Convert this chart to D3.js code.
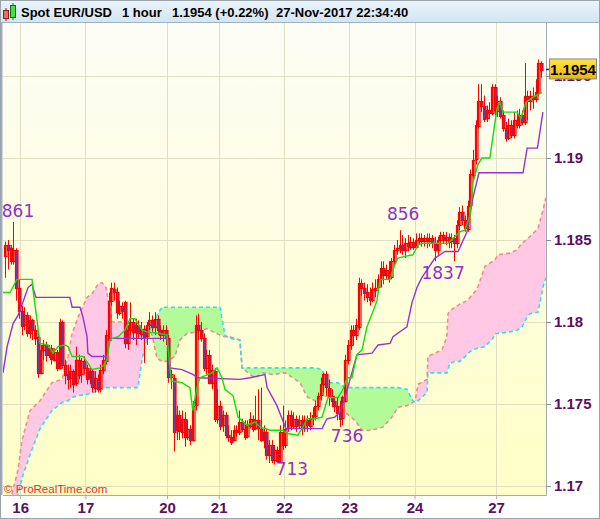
<!DOCTYPE html>
<html><head><meta charset="utf-8">
<script src="https://cdn.jsdelivr.net/npm/d3@7"></script>
<style>html,body{margin:0;padding:0;background:#fff;}svg{display:block;}</style>
</head><body><svg id="c" width="600" height="519"></svg>
<script>
// ---------- data ----------
const dayLabels = ["16","17","20","21","22","23","24","27"];
const dayTickBars = [5.5,29.5,59.5,78.5,102.5,126.5,150.5,180.5];
const priceTicks = [1.17,1.175,1.18,1.185,1.19,1.195];
const lastPrice = 1.1954;
const titleParts = ["Spot EUR/USD","1 hour","1.1954 (+0.22%)","27-Nov-2017 22:34:40"];

const open = [1.1840,1.1847,1.1845,1.1837,1.1844,1.1821,1.1807,1.1798,1.1804,1.1793,
1.1801,1.1795,1.1791,1.1769,1.1783,1.1786,1.1780,1.1784,1.1777,1.1782,
1.1772,1.1800,1.1774,1.1768,1.1766,1.1770,1.1763,1.1777,1.1768,1.1776,
1.1772,1.1766,1.1770,1.1760,1.1765,1.1760,1.1771,1.1776,1.1789,1.1813,
1.1820,1.1818,1.1806,1.1810,1.1812,1.1787,1.1795,1.1800,1.1794,1.1798,
1.1793,1.1796,1.1791,1.1798,1.1801,1.1797,1.1802,1.1795,1.1792,1.1795,
1.1790,1.1766,1.1766,1.1734,1.1743,1.1733,1.1741,1.1730,1.1735,1.1728,
1.1749,1.1798,1.1795,1.1790,1.1772,1.1780,1.1763,1.1770,1.1741,1.1749,
1.1737,1.1743,1.1731,1.1730,1.1728,1.1734,1.1733,1.1739,1.1735,1.1730,
1.1737,1.1741,1.1735,1.1740,1.1735,1.1728,1.1733,1.1719,1.1725,1.1716,
1.1722,1.1715,1.1733,1.1725,1.1735,1.1743,1.1737,1.1741,1.1737,1.1740,
1.1735,1.1740,1.1737,1.1741,1.1743,1.1749,1.1755,1.1762,1.1768,1.1760,
1.1755,1.1752,1.1749,1.1745,1.1741,1.1752,1.1777,1.1786,1.1795,1.1792,
1.1797,1.1824,1.1821,1.1818,1.1815,1.1813,1.1820,1.1821,1.1826,1.1833,
1.1829,1.1832,1.1827,1.1837,1.1844,1.1845,1.1847,1.1844,1.1848,1.1846,
1.1849,1.1846,1.1850,1.1851,1.1849,1.1851,1.1849,1.1851,1.1848,1.1844,
1.1850,1.1853,1.1850,1.1852,1.1849,1.1851,1.1848,1.1859,1.1867,1.1862,
1.1857,1.1871,1.1890,1.1899,1.1920,1.1935,1.1932,1.1924,1.1929,1.1927,
1.1943,1.1929,1.1935,1.1926,1.1918,1.1912,1.1920,1.1914,1.1923,1.1920,
1.1926,1.1922,1.1938,1.1935,1.1938,1.1936,1.1940,1.1958];

const high = [1.1849,1.1850,1.1847,1.1861,1.1845,1.1826,1.1810,1.1809,1.1806,1.1804,
1.1802,1.1798,1.1793,1.1786,1.1789,1.1788,1.1786,1.1786,1.1784,1.1783,
1.1802,1.1801,1.1777,1.1774,1.1774,1.1771,1.1785,1.1780,1.1778,1.1779,
1.1774,1.1772,1.1771,1.1770,1.1768,1.1774,1.1780,1.1795,1.1818,1.1824,
1.1824,1.1821,1.1813,1.1812,1.1813,1.1798,1.1812,1.1802,1.1802,1.1801,
1.1800,1.1798,1.1800,1.1806,1.1804,1.1806,1.1804,1.1798,1.1798,1.1798,
1.1792,1.1771,1.1768,1.1749,1.1746,1.1746,1.1745,1.1740,1.1737,1.1752,
1.1804,1.1805,1.1800,1.1793,1.1783,1.1783,1.1774,1.1772,1.1759,1.1752,
1.1746,1.1745,1.1737,1.1734,1.1737,1.1737,1.1746,1.1741,1.1740,1.1740,
1.1745,1.1743,1.1755,1.1759,1.1760,1.1737,1.1735,1.1728,1.1728,1.1725,
1.1724,1.1737,1.1749,1.1740,1.1746,1.1746,1.1745,1.1743,1.1743,1.1743,
1.1743,1.1743,1.1745,1.1748,1.1752,1.1757,1.1766,1.1769,1.1770,1.1765,
1.1759,1.1755,1.1754,1.1752,1.1755,1.1780,1.1789,1.1798,1.1798,1.1802,
1.1827,1.1826,1.1824,1.1823,1.1821,1.1824,1.1826,1.1829,1.1837,1.1837,
1.1835,1.1837,1.1839,1.1847,1.1850,1.1856,1.1853,1.1851,1.1853,1.1852,
1.1851,1.1854,1.1854,1.1854,1.1853,1.1854,1.1854,1.1853,1.1852,1.1852,
1.1855,1.1855,1.1855,1.1854,1.1854,1.1853,1.1862,1.1870,1.1871,1.1865,
1.1874,1.1893,1.1905,1.1923,1.1945,1.1945,1.1938,1.1932,1.1934,1.1945,
1.1945,1.1938,1.1937,1.1929,1.1922,1.1924,1.1923,1.1928,1.1929,1.1930,
1.1929,1.1958,1.1941,1.1941,1.1943,1.1948,1.1960,1.1959];

const low = [1.1827,1.1832,1.1835,1.1835,1.1813,1.1802,1.1792,1.1795,1.1791,1.1790,
1.1789,1.1786,1.1766,1.1768,1.1777,1.1776,1.1778,1.1774,1.1776,1.1770,
1.1771,1.1772,1.1762,1.1759,1.1760,1.1757,1.1761,1.1765,1.1763,1.1768,
1.1762,1.1762,1.1757,1.1757,1.1757,1.1757,1.1768,1.1774,1.1786,1.1810,
1.1813,1.1802,1.1804,1.1802,1.1784,1.1783,1.1792,1.1789,1.1786,1.1790,
1.1789,1.1775,1.1786,1.1795,1.1794,1.1792,1.1792,1.1789,1.1788,1.1786,
1.1763,1.1759,1.1721,1.1728,1.1728,1.1729,1.1724,1.1728,1.1725,1.1727,
1.1746,1.1789,1.1788,1.1770,1.1768,1.1762,1.1759,1.1739,1.1738,1.1734,
1.1733,1.1729,1.1727,1.1725,1.1728,1.1730,1.1731,1.1733,1.1728,1.1729,
1.1735,1.1733,1.1734,1.1728,1.1727,1.1723,1.1716,1.1714,1.1714,1.1713,
1.1714,1.1714,1.1722,1.1723,1.1733,1.1734,1.1735,1.1733,1.1735,1.1731,
1.1733,1.1733,1.1734,1.1737,1.1740,1.1746,1.1752,1.1757,1.1755,1.1749,
1.1748,1.1745,1.1740,1.1736,1.1737,1.1751,1.1774,1.1783,1.1786,1.1789,
1.1795,1.1816,1.1813,1.1812,1.1810,1.1812,1.1815,1.1818,1.1821,1.1823,
1.1826,1.1824,1.1826,1.1835,1.1841,1.1842,1.1841,1.1839,1.1843,1.1844,
1.1844,1.1845,1.1847,1.1846,1.1846,1.1845,1.1846,1.1845,1.1837,1.1841,
1.1847,1.1848,1.1847,1.1845,1.1845,1.1837,1.1845,1.1856,1.1859,1.1855,
1.1855,1.1868,1.1887,1.1896,1.1918,1.1928,1.1922,1.1922,1.1924,1.1926,
1.1926,1.1925,1.1924,1.1916,1.1910,1.1911,1.1912,1.1912,1.1918,1.1918,
1.1920,1.1920,1.1923,1.1929,1.1930,1.1934,1.1938,1.1949];

const close = [1.1847,1.1844,1.1837,1.1844,1.1821,1.1807,1.1798,1.1804,1.1793,1.1801,
1.1795,1.1790,1.1769,1.1783,1.1786,1.1780,1.1784,1.1777,1.1782,1.1772,
1.1800,1.1774,1.1768,1.1765,1.1770,1.1762,1.1777,1.1768,1.1776,1.1772,
1.1765,1.1770,1.1760,1.1766,1.1759,1.1771,1.1777,1.1792,1.1813,1.1821,
1.1818,1.1806,1.1810,1.1807,1.1787,1.1795,1.1800,1.1794,1.1798,1.1793,
1.1796,1.1791,1.1798,1.1801,1.1797,1.1802,1.1795,1.1792,1.1795,1.1790,
1.1766,1.1768,1.1733,1.1743,1.1733,1.1741,1.1730,1.1735,1.1728,1.1749,
1.1798,1.1795,1.1790,1.1772,1.1780,1.1763,1.1771,1.1741,1.1749,1.1737,
1.1743,1.1731,1.1730,1.1727,1.1734,1.1733,1.1739,1.1735,1.1730,1.1737,
1.1741,1.1735,1.1740,1.1735,1.1728,1.1733,1.1719,1.1725,1.1716,1.1722,
1.1715,1.1733,1.1725,1.1735,1.1743,1.1737,1.1741,1.1737,1.1740,1.1735,
1.1740,1.1737,1.1741,1.1743,1.1749,1.1755,1.1762,1.1768,1.1760,1.1755,
1.1752,1.1749,1.1745,1.1741,1.1754,1.1777,1.1786,1.1795,1.1792,1.1798,
1.1824,1.1821,1.1818,1.1815,1.1813,1.1820,1.1821,1.1826,1.1833,1.1829,
1.1832,1.1827,1.1837,1.1844,1.1845,1.1847,1.1844,1.1848,1.1846,1.1849,
1.1846,1.1850,1.1851,1.1849,1.1851,1.1849,1.1851,1.1848,1.1844,1.1850,
1.1853,1.1850,1.1852,1.1849,1.1851,1.1848,1.1859,1.1867,1.1862,1.1857,
1.1871,1.1890,1.1899,1.1920,1.1935,1.1932,1.1924,1.1929,1.1927,1.1943,
1.1929,1.1935,1.1926,1.1918,1.1912,1.1920,1.1914,1.1923,1.1920,1.1926,
1.1922,1.1938,1.1935,1.1938,1.1936,1.1940,1.1958,1.1954];

const tenkanBar = [-0.8,1.8,4.3,9.9,10.2,12.8,15.7,17.6,19.4,22.0,23.1,24.6,28.6,30.4,31.9,34.9,36.0,37.4,38.5,39.3,41.5,44.0,45.9,47.7,48.8,50.3,52.1,56.9,59.5,61.0,65.0,67.9,69.0,70.5,71.6,76.0,77.9,79.7,80.8,83.8,85.6,88.9,91.8,93.7,97.4,102.1,103.6,107.6,109.5,111.0,113.9,116.5,118.7,122.4,124.2,125.7,127.5,129.3,131.2,133.0,134.9,136.7,137.8,141.5,142.2,143.3,144.4,147.0,149.9,151.8,153.6,162.8,167.2,169.0,170.9,172.0,173.8,175.3,178.2,180.8,181.9,183.0,188.2,189.6,191.5,194.0,197.4];
const tenkanVal = [1.1818,1.1818,1.1826,1.1826,1.1820,1.1787,1.1786,1.1781,1.1785,1.1786,1.1785,1.1779,1.1779,1.1775,1.1771,1.1772,1.1773,1.1777,1.1789,1.1790,1.1791,1.1795,1.1802,1.1802,1.1799,1.1795,1.1794,1.1793,1.1792,1.1764,1.1763,1.1760,1.1746,1.1760,1.1766,1.1769,1.1772,1.1766,1.1759,1.1755,1.1742,1.1737,1.1739,1.1736,1.1734,1.1734,1.1732,1.1731,1.1736,1.1741,1.1741,1.1742,1.1754,1.1754,1.1759,1.1766,1.1766,1.1780,1.1783,1.1797,1.1805,1.1813,1.1826,1.1826,1.1830,1.1835,1.1839,1.1840,1.1841,1.1847,1.1848,1.1848,1.1855,1.1856,1.1865,1.1885,1.1896,1.1900,1.1900,1.1930,1.1934,1.1928,1.1928,1.1924,1.1934,1.1937,1.1940];

const kijunBar = [-0.8,0.7,2.9,4.7,6.5,8.4,9.9,10.2,11.3,23.8,24.6,27.5,28.6,30.1,30.4,31.9,37.4,38.5,58.8,59.5,60.6,65.0,69.0,70.9,86.3,90.0,95.5,96.3,99.9,101.8,103.2,116.5,118.3,121.2,123.1,124.9,126.8,129.3,134.9,137.1,141.5,142.6,145.9,147.7,149.6,151.4,153.2,158.0,161.7,166.5,169.8,172.0,174.2,190.4,191.9,195.7,197.7];
const kijunVal = [1.1769,1.1785,1.1799,1.1804,1.1812,1.1821,1.1823,1.1821,1.1815,1.1815,1.1809,1.1809,1.1803,1.1791,1.1781,1.1779,1.1779,1.1790,1.1790,1.1793,1.1772,1.1771,1.1768,1.1766,1.1765,1.1766,1.1768,1.1760,1.1749,1.1741,1.1735,1.1735,1.1741,1.1742,1.1745,1.1754,1.1765,1.1780,1.1781,1.1786,1.1787,1.1791,1.1795,1.1797,1.1812,1.1821,1.1827,1.1839,1.1843,1.1843,1.1855,1.1876,1.1891,1.1891,1.1906,1.1906,1.1928];

const cloudBar = [2.5,4.7,6.2,9.1,12.8,17.2,20.9,23.1,24.6,26.8,30.1,32.3,34.1,35.6,37.1,38.2,39.3,44.0,46.6,48.8,50.3,52.5,54.0,55.8,57.6,59.5,62.4,64.3,66.8,70.5,74.2,76.4,79.0,80.8,82.6,86.3,87.1,89.3,91.8,94.8,98.5,102.9,105.8,108.4,110.2,111.3,113.9,116.5,118.7,122.4,124.9,128.6,131.2,134.8,138.9,142.2,144.4,147.7,149.9,150.7,151.8,155.1,155.4,160.6,162.4,162.8,163.5,165.4,167.2,169.8,170.9,173.5,176.4,179.3,180.1,181.2,185.6,188.2,190.0,192.2,192.9,195.9,197.7,198.8];
const spanA = [1.1695,1.1710,1.1728,1.1746,1.1752,1.1763,1.1765,1.1779,1.1793,1.1803,1.1815,1.1818,1.1823,1.1824,1.1821,1.1810,1.1800,1.1800,1.1798,1.1797,1.1796,1.1795,1.1792,1.1778,1.1776,1.1776,1.1779,1.1789,1.1793,1.1794,1.1796,1.1794,1.1792,1.1791,1.1791,1.1789,1.1772,1.1769,1.1766,1.1769,1.1768,1.1769,1.1766,1.1763,1.1757,1.1754,1.1752,1.1754,1.1755,1.1748,1.1745,1.1740,1.1734,1.1734,1.1736,1.1742,1.1748,1.1749,1.1751,1.1752,1.1762,1.1765,1.1779,1.1783,1.1791,1.1805,1.1807,1.1809,1.1811,1.1813,1.1815,1.1820,1.1834,1.1837,1.1838,1.1841,1.1842,1.1844,1.1848,1.1851,1.1852,1.1857,1.1868,1.1876];
const spanB = [1.1685,1.1695,1.1705,1.1719,1.1735,1.1746,1.1751,1.1752,1.1754,1.1755,1.1756,1.1757,1.1758,1.1759,1.1760,1.1760,1.1760,1.1760,1.1760,1.1760,1.1777,1.1793,1.1798,1.1804,1.1809,1.1809,1.1809,1.1809,1.1809,1.1809,1.1809,1.1809,1.1809,1.1792,1.1790,1.1789,1.1772,1.1772,1.1772,1.1772,1.1772,1.1772,1.1772,1.1772,1.1772,1.1772,1.1772,1.1771,1.1763,1.1763,1.1760,1.1760,1.1760,1.1760,1.1760,1.1760,1.1760,1.1759,1.1752,1.1751,1.1752,1.1757,1.1769,1.1769,1.1769,1.1771,1.1775,1.1776,1.1776,1.1780,1.1782,1.1784,1.1785,1.1790,1.1793,1.1793,1.1794,1.1795,1.1797,1.1804,1.1805,1.1806,1.1821,1.1827];

const extremeText = ["861","856","1837","736","713"];
const extremeBar = [4.7,146.3,161.0,125.7,105.4];
const extremePrice = [1.1864,1.1862,1.1826,1.1727,1.1707];

// ---------- drawing ----------
const svg = d3.select("#c");
const plot = {l:3, r:546, t:23, b:495};
const x = d3.scaleLinear().domain([0,197]).range([5.2,541]);
const y = d3.scaleLinear().domain([1.17,1.195]).range([486,76]);

const defs = svg.append("defs");
const bgG = defs.append("linearGradient").attr("id","bgG").attr("x1",0).attr("y1",0).attr("x2",0).attr("y2",1);
bgG.append("stop").attr("offset","0%").attr("stop-color","#fdfdf6");
bgG.append("stop").attr("offset","100%").attr("stop-color","#ffffc6");
const tG = defs.append("linearGradient").attr("id","tG").attr("x1",0).attr("y1",0).attr("x2",0).attr("y2",1);
tG.append("stop").attr("offset","0%").attr("stop-color","#eaf4fb");
tG.append("stop").attr("offset","100%").attr("stop-color","#d3e5f2");
const gold = defs.append("linearGradient").attr("id","gold").attr("x1",0).attr("y1",0).attr("x2",0).attr("y2",1);
gold.append("stop").attr("offset","0%").attr("stop-color","#ffe44a");
gold.append("stop").attr("offset","100%").attr("stop-color","#f2b600");
defs.append("clipPath").attr("id","plotClip").append("rect")
  .attr("x",plot.l).attr("y",plot.t).attr("width",plot.r-plot.l).attr("height",plot.b-plot.t);

const cloud = cloudBar.map((b,i)=>({b, a:spanA[i], s:spanB[i]}));
defs.append("clipPath").attr("id","aboveB").append("path")
  .attr("d", d3.area().x(d=>x(d.b)).y0(d=>y(d.s)).y1(-1000)(cloud));
defs.append("clipPath").attr("id","belowB").append("path")
  .attr("d", d3.area().x(d=>x(d.b)).y0(d=>y(d.s)).y1(2000)(cloud));

svg.append("rect").attr("width",600).attr("height",519).attr("fill","#fff");
svg.append("rect").attr("x",0).attr("y",0).attr("width",600).attr("height",plot.t).attr("fill","url(#tG)");
svg.append("rect").attr("x",plot.l).attr("y",plot.t).attr("width",plot.r-plot.l).attr("height",plot.b-plot.t).attr("fill","url(#bgG)");

const g = svg.append("g").attr("clip-path","url(#plotClip)");
g.selectAll(".hg").data(priceTicks).join("line")
  .attr("x1",plot.l).attr("x2",plot.r)
  .attr("y1",d=>Math.round(y(d))+0.5).attr("y2",d=>Math.round(y(d))+0.5)
  .attr("stroke","#e0dfc4").attr("stroke-width",1);
g.selectAll(".vg").data(dayTickBars).join("line")
  .attr("y1",plot.t).attr("y2",plot.b)
  .attr("x1",d=>Math.round(x(d))+0.5).attr("x2",d=>Math.round(x(d))+0.5)
  .attr("stroke","#e0dfc4").attr("stroke-width",1);

// cloud
const between = d3.area().x(d=>x(d.b)).y0(d=>y(d.s)).y1(d=>y(d.a));
g.append("path").attr("d",between(cloud)).attr("fill","#ffc9e5").attr("clip-path","url(#aboveB)");
g.append("path").attr("d",between(cloud)).attr("fill","#b2fb98").attr("clip-path","url(#belowB)");
g.append("path").attr("d",d3.line().x(d=>x(d.b)).y(d=>y(d.a))(cloud))
  .attr("fill","none").attr("stroke","#f08c8c").attr("stroke-width",1.6).attr("stroke-dasharray","4,3");
g.append("path").attr("d",d3.line().x(d=>x(d.b)).y(d=>y(d.s))(cloud))
  .attr("fill","none").attr("stroke","#35dcef").attr("stroke-width",1.6).attr("stroke-dasharray","4,3");

// candles
const bars = d3.range(open.length).map(i=>({i,o:open[i],h:high[i],l:low[i],c:close[i]}));
const cg = g.append("g");
cg.selectAll("line").data(bars).join("line")
  .attr("x1",d=>Math.round(x(d.i))+0.5).attr("x2",d=>Math.round(x(d.i))+0.5)
  .attr("y1",d=>y(d.h)).attr("y2",d=>y(d.l))
  .attr("stroke","#ff0000").attr("stroke-width",1);
cg.selectAll("rect").data(bars).join("rect")
  .attr("x",d=>Math.round(x(d.i))-0.5).attr("width",2.5)
  .attr("y",d=>Math.round(y(Math.max(d.o,d.c)))+0.5)
  .attr("height",d=>Math.max(1,Math.round(Math.abs(y(d.o)-y(d.c)))))
  .attr("fill",d=>d.c<d.o?"#6c3ca6":"none")
  .attr("stroke","#ff0000").attr("stroke-width",1.2);

// lines
const kij = kijunBar.map((b,i)=>[b,kijunVal[i]]);
const ten = tenkanBar.map((b,i)=>[b,tenkanVal[i]]);
const ln = d3.line().x(d=>x(d[0])).y(d=>y(d[1]));
g.append("path").attr("d",ln(kij)).attr("fill","none").attr("stroke","#9a30d0").attr("stroke-width",1.4);
g.append("path").attr("d",ln(ten)).attr("fill","none").attr("stroke","#11dd11").attr("stroke-width",1.4);

// extreme labels
g.selectAll(".ex").data(extremeText).join("text")
  .attr("x",(d,i)=>x(extremeBar[i])).attr("y",(d,i)=>y(extremePrice[i]))
  .attr("text-anchor","middle").attr("font-family","DejaVu Sans").attr("font-size",17)
  .attr("fill","#9030c8").text(d=>d);

svg.append("text").attr("x",4).attr("y",493).attr("font-family","Liberation Sans, Arial").attr("font-size",11.5)
  .attr("fill","#e8302a").text("\u00a9 ProRealTime.com");

// frame
svg.append("line").attr("x1",plot.r+0.5).attr("x2",plot.r+0.5).attr("y1",plot.t).attr("y2",plot.b+0.5).attr("stroke","#a3abb3");
svg.append("line").attr("x1",plot.l).attr("x2",plot.r+0.5).attr("y1",plot.b+0.5).attr("y2",plot.b+0.5).attr("stroke","#a3abb3");
svg.append("line").attr("x1",1.5).attr("x2",1.5).attr("y1",plot.t).attr("y2",plot.b).attr("stroke","#a3abb3").attr("stroke-width",2);
svg.append("line").attr("x1",0).attr("x2",600).attr("y1",plot.t-0.5).attr("y2",plot.t-0.5).attr("stroke","#9fb2c0");
svg.append("rect").attr("x",0.5).attr("y",0.5).attr("width",599).attr("height",518).attr("fill","none").attr("stroke","#9aa4ad");

// axes
const axR = svg.append("g").attr("transform",`translate(${plot.r},0)`)
  .call(d3.axisRight(y).tickValues(priceTicks).tickFormat(d=>String(+d.toFixed(3))).tickSize(5).tickPadding(3));
axR.select(".domain").remove();
axR.selectAll("line").attr("stroke","#8a8f96");
axR.selectAll("text").attr("font-family","Liberation Sans, Arial").attr("font-weight","bold").attr("font-size",15).attr("fill","#5c0f5f");

const axB = svg.append("g").attr("transform",`translate(0,${plot.b})`)
  .call(d3.axisBottom(x).tickValues(dayTickBars).tickFormat((d,i)=>dayLabels[i]).tickSize(4).tickPadding(3));
axB.select(".domain").remove();
axB.selectAll("line").attr("stroke","#a3abb3");
axB.selectAll("text").attr("font-family","Liberation Sans, Arial").attr("font-weight","bold").attr("font-size",15).attr("fill","#5c0f5f");

// last price box (covers the 1.195 tick label as in the original)
const ly = y(lastPrice);
svg.append("line").attr("x1",plot.r).attr("x2",plot.r+4).attr("y1",ly).attr("y2",ly).attr("stroke","#5c0f5f").attr("stroke-width",1.5);
svg.append("rect").attr("x",549.5).attr("y",ly-10.5).attr("width",47).attr("height",20).attr("fill","url(#gold)").attr("stroke","#8a8a8a");
svg.append("text").attr("x",573).attr("y",ly+5.5).attr("text-anchor","middle")
  .attr("font-family","Liberation Sans, Arial").attr("font-weight","bold").attr("font-size",15).attr("fill","#000")
  .text(d3.format(".4f")(lastPrice));

// title
const tx = [21,122,172,276];
svg.selectAll(".tt").data(titleParts).join("text")
  .attr("x",(d,i)=>tx[i]).attr("y",17)
  .attr("font-family","Liberation Sans, Arial").attr("font-weight","bold").attr("font-size",13).attr("fill","#000")
  .text(d=>d);
svg.append("line").attr("x1",6).attr("x2",6).attr("y1",8).attr("y2",21).attr("stroke","#7a2020");
svg.append("rect").attr("x",3.5).attr("y",10.5).attr("width",5).attr("height",8).attr("fill","#f06868").attr("stroke","#8a2020");
svg.append("line").attr("x1",13).attr("x2",13).attr("y1",3).attr("y2",20).attr("stroke","#1a6a1a");
svg.append("rect").attr("x",10.5).attr("y",5.5).attr("width",5).attr("height",12).attr("fill","#44e044").attr("stroke","#1a6a1a");
</script></body></html>
